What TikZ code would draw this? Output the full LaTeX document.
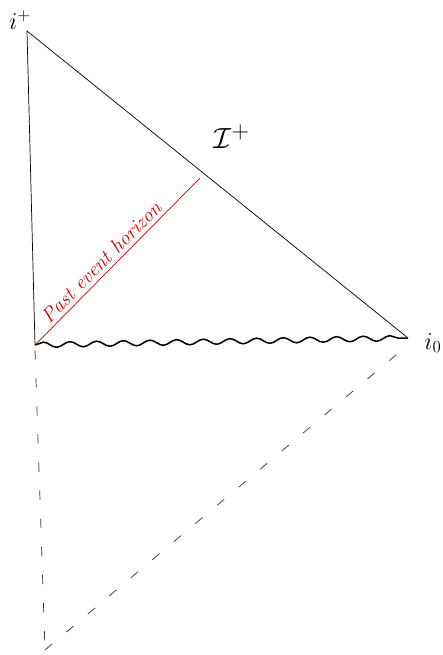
\documentclass[tikz,border=0pt]{standalone}
\usetikzlibrary{positioning, decorations.pathmorphing}
\usepackage{amsmath,amssymb}

\begin{document}
\begin{tikzpicture}[
  edge/.style={line width=0.6pt, black},
  wavy/.style={line width=1.3pt, black, decorate,
               decoration={snake, amplitude=0.08cm, segment length=0.8cm}},
  horizon/.style={line width=0.6pt, red!80!black},
  hidden/.style={line width=0.6pt, black!80, dash pattern=on 8pt off 16pt},
  lbl/.style={font=\huge, inner sep=1pt},
]
\useasboundingbox (0,0) rectangle (13.29,19.65);

% ---------- Corners ----------
\coordinate (iplus) at (0.81,18.72);
\coordinate (sing) at (1.05,9.30);
\coordinate (izero) at (12.24,9.51);
\coordinate (hend) at (6.00,14.31);
\coordinate (ibot) at (1.35,0.15);

% ---------- Labels ----------
\node[lbl] (ilab) at (0.6,19.05) {$i^+$};
\node[lbl, font=\Huge] (scri) at (6.95,15.55) {$\mathcal{I}^+$};
\node[lbl, right=0.45cm of izero, yshift=-0.15cm] (i0lab) {$i_0$};

% ---------- Future region ----------
\draw[edge] (iplus) -- (sing);
\draw[edge] (iplus) -- (izero);
\draw[wavy] (sing) -- (izero);

% ---------- Past event horizon ----------
\draw[horizon] (sing) -- node[sloped, above, pos=0.45, text=red!80!black,
  font=\LARGE\itshape] {Past event horizon} (hend);

% ---------- Lower (hidden) region ----------
\draw[hidden] (sing) ++(0,-0.15) -- (ibot);
\draw[hidden] (izero) ++(-0.35,-0.5) -- (ibot);

\end{tikzpicture}
\end{document}
